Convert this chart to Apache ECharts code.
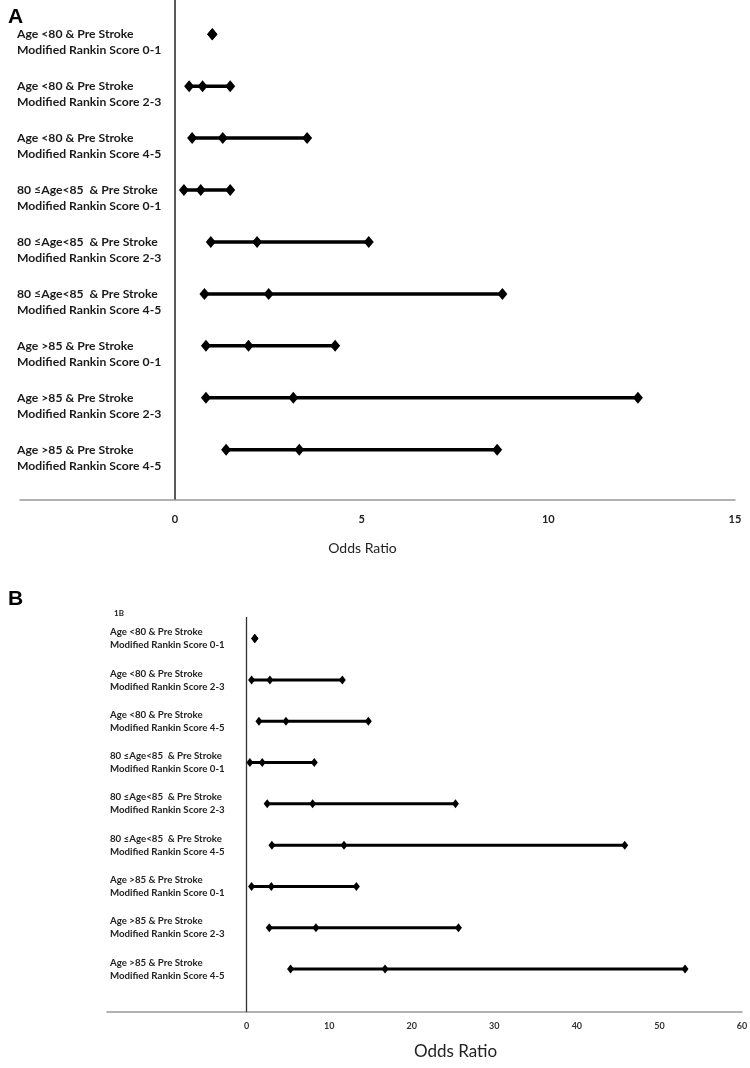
<!DOCTYPE html>
<html>
<head>
<meta charset="utf-8">
<script src="https://cdn.jsdelivr.net/npm/echarts@6/dist/echarts.min.js"></script>
<style>
html,body{margin:0;padding:0;background:#fff;}
#chart{width:750px;height:1068px;}
</style>
</head>
<body>
<div id="chart"></div>
<script>
// Row labels (two lines each)
const labelLine1 = [
  'Age <80 & Pre Stroke',
  'Age <80 & Pre Stroke',
  'Age <80 & Pre Stroke',
  '80 \u2264Age<85  & Pre Stroke',
  '80 \u2264Age<85  & Pre Stroke',
  '80 \u2264Age<85  & Pre Stroke',
  'Age >85 & Pre Stroke',
  'Age >85 & Pre Stroke',
  'Age >85 & Pre Stroke'
];
const labelLine2 = [
  'Modified Rankin Score 0-1',
  'Modified Rankin Score 2-3',
  'Modified Rankin Score 4-5',
  'Modified Rankin Score 0-1',
  'Modified Rankin Score 2-3',
  'Modified Rankin Score 4-5',
  'Modified Rankin Score 0-1',
  'Modified Rankin Score 2-3',
  'Modified Rankin Score 4-5'
];
const rowIndex = [1, 2, 3, 4, 5, 6, 7, 8, 9];

// Panel A: odds ratio with 95% CI
const aLow  = [1, 0.38, 0.46, 0.24, 0.96, 0.79, 0.83, 0.83, 1.37];
const aOR   = [1, 0.74, 1.28, 0.69, 2.20, 2.51, 1.97, 3.17, 3.33];
const aHigh = [1, 1.48, 3.54, 1.48, 5.19, 8.77, 4.29, 12.40, 8.63];
const aTicks = [0, 5, 10, 15];

// Panel B: odds ratio with 95% CI
const bLow  = [1, 0.61, 1.50, 0.40, 2.50, 3.07, 0.61, 2.75, 5.33];
const bOR   = [1, 2.83, 4.77, 1.90, 8.00, 11.80, 3.00, 8.40, 16.77];
const bHigh = [1, 11.60, 14.75, 8.20, 25.30, 45.80, 13.30, 25.66, 53.10];
const bTicks = [0, 10, 20, 30, 40, 50, 60];

const chart = echarts.init(document.getElementById('chart'), null, {renderer: 'canvas'});

function rowSeries(low, or, high, axisIdx, lw, sym, axisColor, axisWidth) {
  return rowIndex.map((r, i) => {
    const s = {
      type: 'line',
      xAxisIndex: axisIdx,
      yAxisIndex: axisIdx,
      data: [[low[i], r], [or[i], r], [high[i], r]],
      symbol: 'diamond',
      symbolSize: sym,
      showAllSymbol: true,
      lineStyle: {color: '#000', width: lw},
      itemStyle: {color: '#000'},
      silent: true,
      z: 5
    };
    if (i === 0) {
      // vertical reference line at odds ratio 0 (the category axis crossing)
      s.markLine = {
        silent: true, symbol: 'none', animation: false,
        label: {show: false},
        lineStyle: {color: axisColor, width: axisWidth, type: 'solid'},
        data: [{xAxis: 0}]
      };
    }
    return s;
  });
}

const labelFont = 'Lato, "Liberation Sans", sans-serif';

const option = {
  animation: false,
  backgroundColor: '#fff',
  title: [
    {text: 'A', left: 3, top: 2, textStyle: {fontFamily: '"Liberation Sans", Arial, sans-serif', fontWeight: 'bold', fontSize: 21, color: '#000'}},
    {text: 'B', left: 3, top: 584, textStyle: {fontFamily: '"Liberation Sans", Arial, sans-serif', fontWeight: 'bold', fontSize: 21, color: '#000'}},
    {text: '1B', left: 109, top: 604, textStyle: {fontFamily: labelFont, fontWeight: 'bold', fontSize: 8, color: '#222'}}
  ],
  grid: [
    {left: 20, top: 0, width: 715, height: 499.5, containLabel: false, outerBoundsMode: 'none'},
    {left: 107, top: 617, width: 635, height: 395, containLabel: false, outerBoundsMode: 'none'}
  ],
  xAxis: [
    {
      gridIndex: 0, type: 'value', min: -4.15, max: 15,
      axisLine: {onZero: false, lineStyle: {color: '#999', width: 1.5}},
      axisTick: {show: false},
      splitLine: {show: false},
      axisLabel: {customValues: aTicks, margin: 14, fontFamily: labelFont, fontWeight: 'bold', fontSize: 11, color: '#222'},
      name: 'Odds Ratio', nameLocation: 'middle', nameGap: 42,
      nameTextStyle: {fontFamily: labelFont, fontSize: 14, color: '#222', padding: [0, 30, 0, 0]}
    },
    {
      gridIndex: 1, type: 'value', min: -16.9, max: 60,
      axisLine: {onZero: false, lineStyle: {color: '#999', width: 1.5}},
      axisTick: {show: false},
      splitLine: {show: false},
      axisLabel: {customValues: bTicks, margin: 10, fontFamily: labelFont, fontWeight: 'bold', fontSize: 9, color: '#333'},
      name: 'Odds Ratio', nameLocation: 'middle', nameGap: 31,
      nameTextStyle: {fontFamily: labelFont, fontSize: 17, color: '#222', padding: [0, 0, 0, 62]}
    }
  ],
  yAxis: [
    {
      gridIndex: 0, type: 'value', inverse: true, min: 0.34, max: 9.96,
      axisLine: {show: false, onZero: false},
      axisTick: {show: false},
      splitLine: {show: false},
      axisLabel: {
        customValues: rowIndex, inside: true, margin: -3, verticalAlign: 'middle',
        lineHeight: 16, fontFamily: labelFont, fontWeight: 'bold', fontSize: 12.2, color: '#1a1a1a',
        formatter: v => '\n' + labelLine1[v - 1] + '\n' + labelLine2[v - 1]
      }
    },
    {
      gridIndex: 1, type: 'value', inverse: true, min: 0.477, max: 10.04,
      axisLine: {show: false, onZero: false},
      axisTick: {show: false},
      splitLine: {show: false},
      axisLabel: {
        customValues: rowIndex, inside: true, margin: 3, verticalAlign: 'middle',
        lineHeight: 13, fontFamily: labelFont, fontWeight: 'bold', fontSize: 9.7, color: '#222',
        formatter: v => labelLine1[v - 1] + '\n' + labelLine2[v - 1]
      }
    }
  ],
  series: [].concat(
    rowSeries(aLow, aOR, aHigh, 0, 3.5, [10, 12], '#222', 1.5),
    rowSeries(bLow, bOR, bHigh, 1, 3, [7, 9], '#333', 1.3)
  )
};

chart.setOption(option);
</script>
</body>
</html>
